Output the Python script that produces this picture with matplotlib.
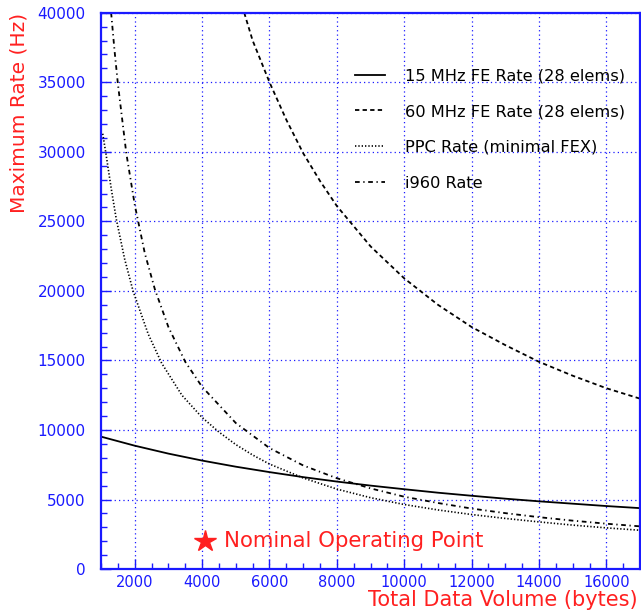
import matplotlib
matplotlib.use("Agg")
import matplotlib.pyplot as plt
from matplotlib.ticker import MultipleLocator

# 15 MHz FE Rate (28 elems)
fe15_x = [1000, 2000, 3000, 4000, 5000, 6000, 7000, 8000, 9000, 10000,
          11000, 12000, 13000, 14000, 15000, 16000, 17000]
fe15_y = [9520, 8870, 8300, 7800, 7360, 6970, 6610, 6290, 6000, 5740,
          5490, 5270, 5060, 4870, 4700, 4530, 4380]

# 60 MHz FE Rate (28 elems)
fe60_x = [5250, 5500, 6000, 6500, 7000, 7500, 8000, 9000, 10000, 11000,
          12000, 13000, 14000, 15000, 16000, 17000]
fe60_y = [40000, 38000, 35000, 32300, 29900, 27900, 26100, 23200, 20900, 19000,
          17400, 16100, 14900, 13900, 13000, 12250]

# PPC Rate (minimal FEX)
ppc_x = [1050, 1150, 1300, 1450, 1700, 1950, 2400, 2800, 3400, 4000, 4500, 5000,
         5500, 6000, 7000, 8000, 9000, 10000, 11000, 12000, 13000, 14000, 15000,
         16000, 17000]
ppc_y = [31300, 29800, 27400, 25200, 22300, 20000, 16900, 14800, 12500, 10900, 9850, 8950,
         8200, 7550, 6550, 5750, 5130, 4640, 4250, 3920, 3640, 3390, 3160,
         2960, 2790]

# i960 Rate
i960_x = [1300, 1400, 1500, 1750, 2000, 2300, 2600, 3000, 3500, 4000, 5000,
          6000, 7000, 8000, 9000, 10000, 11000, 12000, 13000, 14000, 15000,
          16000, 17000]
i960_y = [40000, 37300, 34900, 29900, 26200, 22700, 20100, 17400, 14900, 13100, 10500,
          8700, 7450, 6530, 5800, 5200, 4750, 4350, 4020, 3730, 3480,
          3260, 3070]

nominal_x = 4100
nominal_y = 2000

blue = "#1a1aff"
red = "#ff2020"

fig = plt.figure(figsize=(6.41, 6.14), dpi=100)
ax = fig.add_axes([0.1576, 0.0732, 0.841, 0.9061])

ax.plot(fe15_x, fe15_y, color="black", lw=1.3, label="15 MHz FE Rate (28 elems)")
ax.plot(fe60_x, fe60_y, color="black", lw=1.3, linestyle=(0, (2.4, 1.8)),
        label="60 MHz FE Rate (28 elems)")
ax.plot(ppc_x, ppc_y, color="black", lw=1.2, linestyle=(0, (0.8, 1.2)),
        label="PPC Rate (minimal FEX)")
ax.plot(i960_x, i960_y, color="black", lw=1.3, linestyle=(0, (2.6, 2.0, 0.7, 2.0)),
        label="i960 Rate")

ax.plot([nominal_x], [nominal_y], marker="*", color=red, ms=16, linestyle="none")
ax.text(4650, nominal_y, "Nominal Operating Point", color=red, fontsize=15.3,
        va="center", ha="left")

ax.set_xlim(1000, 17000)
ax.set_ylim(0, 40000)
ax.xaxis.set_major_locator(MultipleLocator(2000))
ax.xaxis.set_minor_locator(MultipleLocator(500))
ax.yaxis.set_major_locator(MultipleLocator(5000))
ax.yaxis.set_minor_locator(MultipleLocator(1000))

ax.grid(True, which="major", color=blue, lw=0.9, linestyle=(0, (1, 2.5)))
ax.tick_params(which="both", direction="in", colors=blue, labelcolor=blue,
               labelsize=10.5, width=1.0)
ax.tick_params(which="major", length=7)
ax.tick_params(which="minor", length=4)
ax.tick_params(axis="y", pad=11, labelsize=11)
ax.tick_params(axis="x", pad=4)
for s in ax.spines.values():
    s.set_color(blue)
    s.set_linewidth(1.6)

ax.text(0.995, -0.066, "Total Data Volume (bytes)", transform=ax.transAxes,
        color=red, fontsize=15, ha="right", va="baseline")
ax.text(-0.153, 1.0, "Maximum Rate (Hz)", transform=ax.transAxes,
        color=red, fontsize=14.5, ha="center", va="top", rotation=90)

ax.legend(loc="upper left", bbox_to_anchor=(0.471, 0.9), frameon=False,
          fontsize=11.7, handlelength=1.85, handletextpad=1.22,
          labelspacing=1.28, borderpad=0, borderaxespad=0)

fig.savefig("out.png", dpi=100)
